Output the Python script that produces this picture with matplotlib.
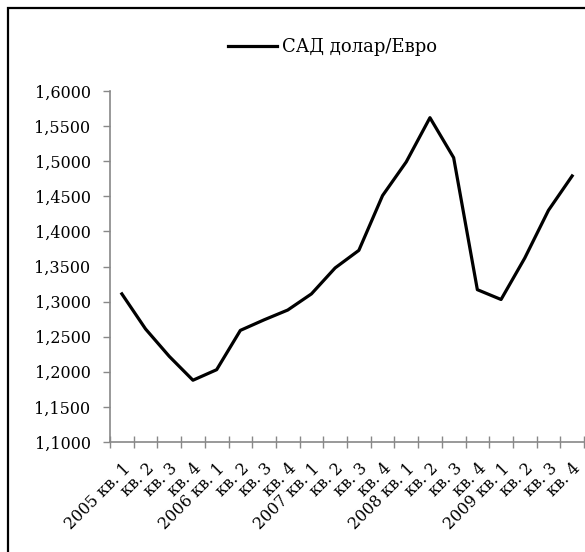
import matplotlib
matplotlib.use("Agg")
import matplotlib.pyplot as plt
from matplotlib.patches import Rectangle
from matplotlib.ticker import FuncFormatter

plt.rcParams['font.family'] = ['DejaVu Serif']

# quarterly USD/EUR rate
labels = ["2005 кв. 1", "кв. 2", "кв. 3", "кв. 4",
          "2006 кв. 1", "кв. 2", "кв. 3", "кв. 4",
          "2007 кв. 1", "кв. 2", "кв. 3", "кв. 4",
          "2008 кв. 1", "кв. 2", "кв. 3", "кв. 4",
          "2009 кв. 1", "кв. 2", "кв. 3", "кв. 4"]
rate = [1.311, 1.261, 1.222, 1.188,
        1.203, 1.259, 1.274, 1.288,
        1.311, 1.348, 1.373, 1.451,
        1.499, 1.562, 1.505, 1.317,
        1.303, 1.362, 1.430, 1.479]
series_name = "САД долар/Евро"

fig = plt.figure(figsize=(5.85, 5.52), dpi=100)

# outer frame of the chart object (cut off on the right / bottom)
fig.patches.append(Rectangle((8 / 585, -0.1), 1.2, 1.1 - 8 / 552,
                             transform=fig.transFigure, fill=False,
                             edgecolor='black', linewidth=1.6))

ax = fig.add_axes([110 / 585, 1 - 442 / 552, 474 / 585, 351 / 552])
x = list(range(len(rate)))
ax.plot(x, rate, color='black', linewidth=2.3, label=series_name)

ax.set_ylim(1.1, 1.6)
ax.set_yticks([1.1 + 0.05 * i for i in range(11)])
ax.yaxis.set_major_formatter(FuncFormatter(lambda v, p: ("%.4f" % v).replace('.', ',')))

ax.set_xlim(-0.5, len(rate) - 0.5)
ax.set_xticks([i - 0.5 for i in range(len(rate) + 1)])
ax.set_xticklabels([])
ax.set_xticks(x, minor=True)
ax.set_xticklabels(labels, minor=True, rotation=45, ha='right',
                   rotation_mode='anchor', fontsize=11.5)
ax.tick_params(axis='x', which='major', direction='inout', length=8,
               color='#888888', width=1)
ax.tick_params(axis='x', which='minor', length=0, pad=13)
ax.tick_params(axis='y', direction='out', length=5, color='#888888',
               width=1, labelsize=11.5, pad=9)

for s in ['top', 'right']:
    ax.spines[s].set_visible(False)
for s in ['left', 'bottom']:
    ax.spines[s].set_color('#888888')
    ax.spines[s].set_linewidth(1.2)

leg = ax.legend(loc='center', bbox_to_anchor=(0.47, 1.125), frameon=False,
                fontsize=13, handlelength=2.7, handletextpad=0.3)

fig.savefig("out.png", dpi=100)
